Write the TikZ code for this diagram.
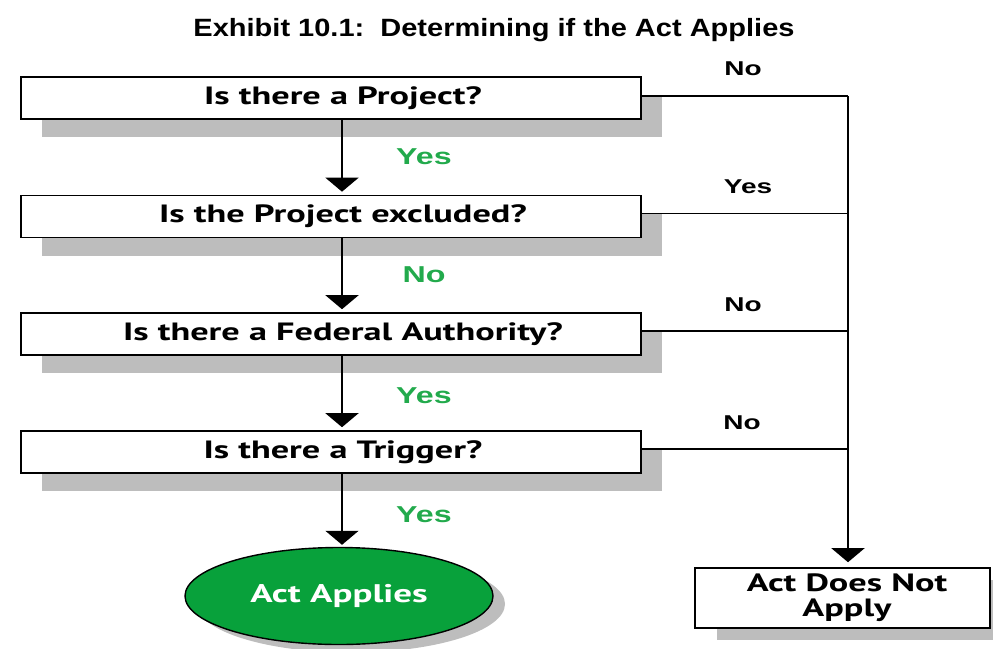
\documentclass[tikz,border=0pt]{standalone}
\usepackage{fontspec}
\setmainfont{Liberation Sans}
\newfontfamily\titlefont[FakeStretch=1.16]{Liberation Sans Bold}
\newfontfamily\lblfont[FakeStretch=1.4]{Liberation Sans Bold}
\newfontfamily\qfont[FakeStretch=1.45]{PT Sans Bold}
\usetikzlibrary{arrows.meta,shapes.geometric,shadows}
\definecolor{yesgreen}{RGB}{34,170,76}
\definecolor{ovalgreen}{RGB}{8,161,59}
\definecolor{shade}{RGB}{189,189,189}

\begin{document}
\begin{tikzpicture}[x=1pt,y=-1pt,
  question/.style={draw=black,line width=1.6pt,fill=white,
    minimum width=620pt,minimum height=42pt,inner sep=0pt,
    general shadow={shadow xshift=21pt,shadow yshift=-18pt,fill=shade},
    font=\qfont\fontsize{25}{26}\selectfont},
  flow/.style={line width=1.6pt,-{Triangle[width=33pt,length=14pt]}},
  link/.style={line width=1.4pt},
  ans/.style={text=yesgreen,font=\lblfont\fontsize{23}{26}\selectfont,inner sep=0pt},
  side/.style={font=\lblfont\fontsize{20}{24}\selectfont,inner sep=0pt},
]
\useasboundingbox (0,0) rectangle (993,648);

% title
\node[font=\titlefont\fontsize{25}{27}\selectfont,inner sep=0pt] (title) at (494,30)
  {Exhibit 10.1:\ \ Determining if the Act Applies};

% question boxes
\node[question] (q1) at (331,98)    {\hspace*{24pt}Is there a Project?};
\node[question] (q2) at (331,216.5) {\hspace*{24pt}Is the Project excluded?};
\node[question] (q3) at (331,334)   {\hspace*{24pt}Is there a Federal Authority?};
\node[question] (q4) at (331,452)   {\hspace*{24pt}Is there a Trigger?};

% outcomes
\node[ellipse,draw=black,line width=1.4pt,fill=ovalgreen,
      minimum width=308pt,minimum height=97pt,inner sep=0pt,
      general shadow={shadow xshift=12pt,shadow yshift=-8pt,fill=shade},
      text=white,font=\qfont\fontsize{25.5}{27}\selectfont] (applies) at (339,596) {Act Applies};
\node[draw=black,line width=1.6pt,fill=white,
      minimum width=295pt,minimum height=60pt,inner sep=0pt,align=center,
      general shadow={shadow xshift=22pt,shadow yshift=-12pt,fill=shade},
      font=\qfont\fontsize{25}{25}\selectfont] (notapply) at (842.5,598)
  {\hspace*{9pt}Act Does Not\\\hspace*{9pt}Apply};

% main flow
\draw[flow,shorten >=3pt] ([xshift=11pt]q1.south) -- ([xshift=11pt]q2.north);
\draw[flow,shorten >=3pt] ([xshift=11pt]q2.south) -- ([xshift=11pt]q3.north);
\draw[flow,shorten >=3pt] ([xshift=11pt]q3.south) -- ([xshift=11pt]q4.north);
\draw[flow,shorten >=2pt] ([xshift=11pt]q4.south) -- ([xshift=11pt]q4.south |- applies.north);

% exit rail on the right
\coordinate (railtop) at (848,96);
\draw[link] ([yshift=2pt]q1.east) -- (railtop);
\draw[link] ([yshift=3pt]q2.east) -- ([yshift=3pt]q2.east -| railtop);
\draw[link] ([yshift=3pt]q3.east) -- ([yshift=3pt]q3.east -| railtop);
\draw[link] ([yshift=3pt]q4.east) -- ([yshift=3pt]q4.east -| railtop);
\draw[flow,shorten >=5pt] (railtop) -- (railtop |- notapply.north);

% answers on the main flow
\node[ans] (a1) at (424,157) {Yes};
\node[ans] (a2) at (424,275) {No};
\node[ans] (a3) at (424,396) {Yes};
\node[ans] (a4) at (424,515) {Yes};

% answers on the exit branches
\node[side] (s1) at (743,69)  {No};
\node[side] (s2) at (748,187) {Yes};
\node[side] (s3) at (743,305) {No};
\node[side] (s4) at (742,423) {No};
\end{tikzpicture}
\end{document}
